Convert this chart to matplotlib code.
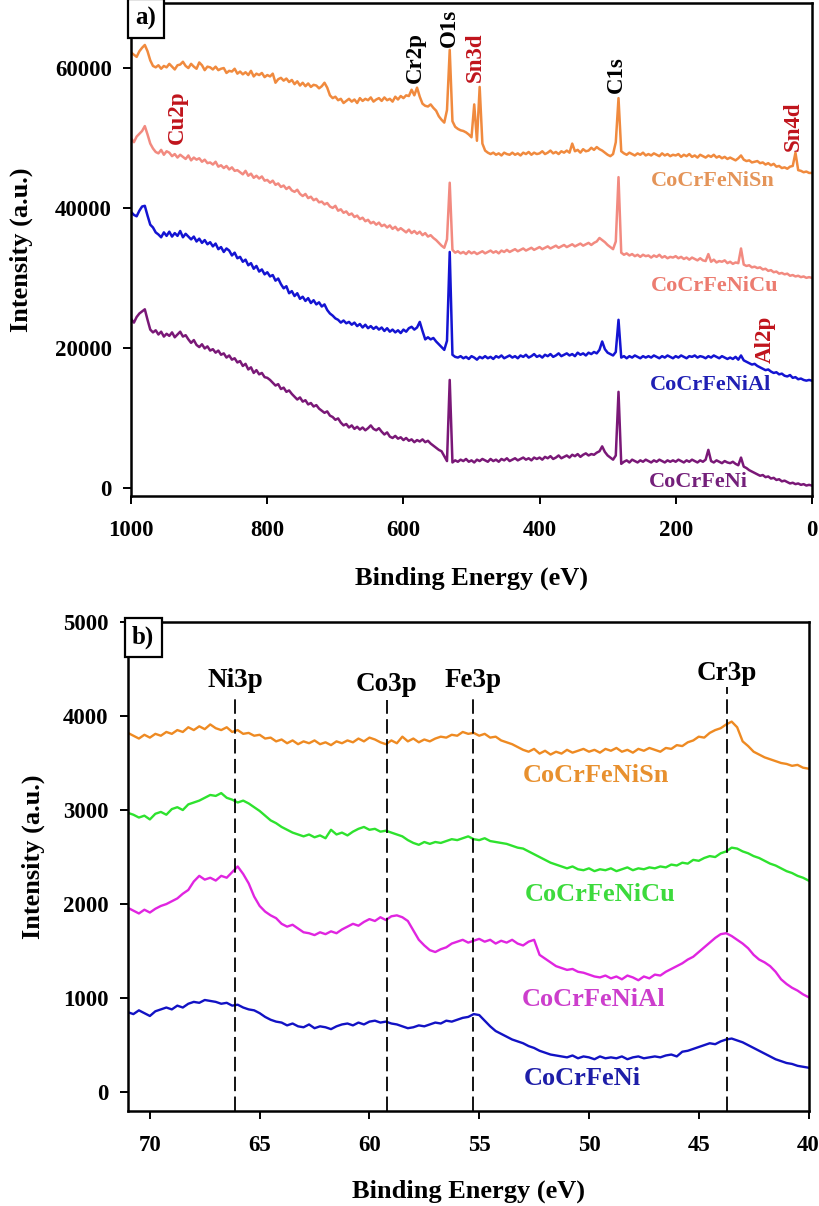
import numpy as np
import matplotlib
matplotlib.use("Agg")
import matplotlib.pyplot as plt

plt.rcParams["font.family"] = "Liberation Serif"
plt.rcParams["font.weight"] = "bold"
plt.rcParams["axes.labelweight"] = "bold"

# ---------------- survey spectra (panel a), 4 eV steps, values in kcounts ----------------
survey_energy = np.arange(1000, -1, -4)

survey_sn = [
    62.2, 61.9, 61.6, 62.4, 62.9, 63.3, 62.4, 61.1, 60.3, 60.1,
    60.4, 59.9, 60.3, 60.1, 60.6, 60.2, 59.8, 60.4, 60.5, 60.9,
    60.3, 60.0, 60.6, 60.2, 59.9, 60.8, 60.4, 59.7, 60.2, 60.1,
    59.8, 60.2, 59.7, 59.9, 60.0, 59.3, 59.6, 59.5, 59.9, 59.2,
    59.5, 59.1, 59.4, 59.0, 59.6, 58.8, 59.2, 59.0, 59.3, 58.7,
    59.0, 58.8, 59.2, 57.9, 58.4, 58.6, 58.2, 58.5, 58.0, 58.3,
    57.7, 58.1, 57.5, 57.9, 57.4, 57.8, 57.3, 57.6, 57.5, 57.1,
    57.4, 57.9, 57.2, 56.1, 55.7, 55.9, 55.4, 55.6, 55.0, 55.3,
    55.6, 55.2, 55.5, 55.0, 55.7, 55.3, 55.6, 55.4, 55.8, 55.2,
    55.5, 55.7, 55.3, 55.8, 55.4, 55.6, 55.2, 55.9, 55.5, 56.0,
    55.7, 56.1, 56.0, 56.9, 56.1, 57.2, 55.9, 54.9, 54.6, 54.5,
    54.8, 54.3, 53.9, 53.1, 52.6, 52.2, 54.0, 62.6, 52.4, 51.6,
    51.3, 51.1, 51.0, 50.8, 50.5, 50.1, 54.8, 49.6, 57.3, 49.2,
    48.2, 47.9, 47.7, 47.9, 47.6, 47.8, 47.5, 47.9, 47.7, 47.6,
    47.9, 47.6, 47.8, 47.5, 47.9, 47.7, 48.0, 47.6, 47.9, 47.7,
    47.8, 48.1, 47.7, 47.9, 48.2, 47.8, 48.0, 47.7, 48.1, 47.9,
    48.2, 47.9, 49.2, 48.1, 48.3, 47.9, 48.4, 48.1, 48.2, 48.6,
    48.3, 48.7, 48.4, 48.2, 47.9, 47.6, 47.4, 47.7, 49.4, 55.7,
    48.1, 47.8, 47.6, 47.9, 47.7, 47.5, 47.8, 47.6, 47.9, 47.5,
    47.7, 47.5, 47.8, 47.6, 47.4, 47.8, 47.5, 47.7, 47.4, 47.6,
    47.5, 47.7, 47.3, 47.6, 47.4, 47.7, 47.3, 47.5, 47.2, 47.6,
    47.4, 47.2, 47.5, 47.3, 47.6, 47.2, 47.4, 47.1, 47.3, 47.0,
    47.2, 47.0, 46.8, 47.1, 47.5, 46.9, 46.7, 46.8, 46.5, 46.6,
    46.7, 46.4, 46.5, 46.2, 46.4, 46.1, 46.3, 45.9, 46.0, 45.7,
    45.8, 45.6, 45.9, 46.0, 47.9, 45.4, 45.3, 45.1, 45.2, 45.0,
    45.0,
]

survey_cu = [
    49.9, 49.4, 50.2, 50.6, 51.0, 51.7, 50.5, 49.2, 48.5, 48.0,
    47.8, 48.3, 47.6, 48.1, 47.9, 47.4, 47.7, 47.2, 47.6, 47.3,
    47.0, 47.5, 46.8, 47.2, 46.9, 47.1, 46.6, 46.9, 46.4, 46.5,
    46.2, 46.6, 45.9, 46.1, 45.7, 46.0, 45.5, 45.8, 45.3, 45.4,
    45.1, 44.8, 45.3, 44.6, 44.9, 44.3, 44.6, 44.2, 44.5, 43.9,
    44.0, 43.6, 43.9, 43.3, 43.5, 43.0, 43.2, 42.7, 43.0, 42.5,
    42.3, 42.6, 42.0, 41.7, 42.0, 41.4, 41.6, 41.1, 41.3, 40.8,
    40.9, 40.5, 40.7, 40.2, 40.0, 40.3, 39.6, 39.8, 39.3, 39.5,
    39.0, 39.2, 38.7, 38.9, 38.4, 38.6, 38.1, 38.3, 37.8, 38.0,
    37.6, 37.9, 37.4, 37.6, 37.2, 37.5, 37.0, 37.3, 36.8, 37.1,
    36.8, 36.5, 36.9, 36.4, 36.7, 36.3, 36.6, 36.1, 36.4, 35.9,
    36.1, 35.7, 35.4, 35.0, 34.6, 34.3, 35.5, 43.6, 34.0, 33.6,
    33.8, 33.5, 33.7, 33.4, 33.8, 33.5, 33.7, 33.4, 33.6, 33.8,
    33.5, 33.7, 33.9, 33.6, 33.8, 33.5, 33.9, 33.7, 34.0, 33.7,
    33.9, 34.1, 33.8, 34.0, 34.2, 33.9, 34.1, 34.3, 34.0, 34.2,
    34.4, 34.1, 34.3, 34.5, 34.2, 34.4, 34.6, 34.3, 34.5, 34.7,
    34.4, 34.6, 34.8, 34.5, 34.7, 34.9, 34.6, 34.8, 35.0, 34.7,
    35.0, 35.2, 35.7, 35.4, 35.1, 34.7, 34.4, 34.1, 35.2, 44.4,
    33.6, 33.3, 33.5, 33.2, 33.4, 33.1, 33.3, 33.0, 33.3, 33.1,
    33.2, 32.9, 33.2, 33.0, 33.3, 32.9, 33.1, 32.8, 33.0, 32.9,
    33.1, 32.8, 33.0, 32.7, 32.9, 32.6, 32.9, 32.7, 32.5, 32.8,
    32.5, 32.4, 33.4, 32.3, 32.6, 32.2, 32.4, 32.3, 32.5, 32.1,
    32.3, 32.0, 32.2, 32.1, 34.2, 31.9, 31.7, 31.8, 31.5, 31.6,
    31.4, 31.5, 31.2, 31.3, 31.0, 31.1, 30.8, 30.9, 30.6, 30.7,
    30.5, 30.6, 30.3, 30.4, 30.2, 30.3, 30.1, 30.2, 30.0, 30.1,
    30.0,
]

survey_al = [
    39.4, 39.0, 38.8, 39.6, 40.2, 40.3, 38.9, 37.6, 37.2, 36.5,
    36.2, 35.8, 36.5, 36.0, 36.6, 35.9, 36.4, 36.0, 36.7, 35.8,
    36.3, 35.9, 35.5, 35.9, 35.2, 35.6, 35.0, 35.4, 34.8, 35.1,
    34.5, 34.9, 34.1, 34.4, 33.7, 34.2, 33.9, 33.2, 33.6, 32.8,
    33.0, 32.3, 32.6, 31.8, 32.1, 31.3, 31.7, 30.9, 31.2, 30.5,
    30.8, 30.2, 30.4, 29.6, 29.9, 29.1, 28.5, 28.8, 27.8, 28.1,
    27.4, 27.8, 27.0, 27.3, 26.7, 27.1, 26.4, 26.8, 26.2, 26.5,
    25.9, 26.2, 25.4, 24.9, 24.6, 24.2, 24.0, 23.6, 23.9, 23.5,
    23.7, 23.3, 23.6, 23.1, 23.4, 22.9, 23.3, 22.8, 23.1, 22.7,
    23.0, 22.6, 22.9, 22.4, 22.8, 22.3, 22.6, 22.2, 22.5, 22.1,
    22.6, 22.3, 22.8, 23.0, 22.6, 22.9, 23.7, 22.4, 21.2, 21.5,
    21.2, 21.4, 20.9, 20.5, 20.1, 19.7, 21.0, 33.7, 19.0, 18.7,
    18.6, 18.8, 18.5, 18.7, 18.4, 18.8, 18.6, 18.3, 18.7, 18.5,
    18.8, 18.5, 18.7, 18.4, 18.8, 18.6, 18.9, 18.5, 18.7, 18.9,
    18.6, 18.8, 18.5, 18.9, 18.7, 19.0, 18.6, 18.8, 19.1, 18.7,
    18.9, 18.6, 19.0, 18.8, 19.1, 18.7, 18.9, 19.2, 18.8, 19.0,
    19.2, 18.9, 19.1, 18.8, 19.3, 19.0, 19.2, 18.9, 19.3, 19.1,
    19.4, 19.2, 19.7, 20.9, 19.8, 19.3, 19.1, 18.9, 19.4, 24.0,
    18.6, 18.8, 18.5, 18.8, 18.6, 18.9, 18.7, 18.5, 18.8, 18.6,
    18.8, 18.6, 18.9, 18.7, 18.5, 18.8, 18.6, 18.9, 18.7, 18.5,
    18.8, 18.6, 18.9, 18.7, 18.5, 18.8, 18.7, 18.9, 18.6, 18.8,
    18.7, 18.5, 18.8, 18.6, 18.9, 18.7, 18.5, 18.8, 18.6, 18.4,
    18.6, 18.4, 18.7, 18.3, 18.9, 18.2, 18.0, 17.8, 17.6, 17.7,
    17.4, 17.2, 17.0, 16.8, 16.9, 16.6, 16.4, 16.5, 16.2, 16.3,
    16.0, 15.9, 16.1, 15.7, 15.8, 15.5, 15.6, 15.4, 15.3, 15.4,
    15.3,
]

survey_ni = [
    24.1, 23.6, 24.4, 24.9, 25.2, 25.5, 24.0, 22.6, 22.2, 22.5,
    21.9, 22.3, 21.6, 22.0, 21.7, 22.2, 21.5, 21.9, 22.3, 21.6,
    21.8, 21.2, 20.7, 21.1, 20.4, 20.1, 20.5, 19.9, 20.2, 19.6,
    19.8, 19.3, 19.6, 19.0, 19.2, 18.6, 18.9, 18.3, 18.5, 17.9,
    18.1, 17.4, 17.7, 16.9, 17.2, 16.4, 16.8, 16.2, 16.4, 15.8,
    15.7, 15.4, 15.0, 14.6, 14.8, 14.1, 14.3, 13.7, 13.9, 13.4,
    13.0, 12.6, 12.9, 12.3, 12.5, 11.9, 12.1, 11.6, 11.8, 11.3,
    11.0, 10.7, 10.9, 10.3, 10.1, 9.7, 9.9, 9.3, 8.9, 9.1,
    8.6, 8.9, 8.4, 8.7, 8.3, 8.6, 8.2, 8.5, 8.9, 8.4,
    8.2, 8.5, 8.0, 7.6, 7.9, 7.3, 7.1, 7.4, 7.0, 7.2,
    6.8, 7.1, 6.7, 6.9, 6.5, 6.8, 6.6, 6.9, 6.5, 6.7,
    6.3, 6.0, 5.7, 5.4, 5.2, 4.5, 3.8, 15.4, 3.6, 3.9,
    3.7, 4.0, 3.8, 4.1, 3.7, 3.9, 3.6, 4.0, 3.8, 4.1,
    3.9, 3.7, 4.1, 3.8, 4.0, 3.7, 4.1, 3.9, 4.2, 3.8,
    4.0, 4.2, 3.9, 4.1, 4.3, 4.0, 4.2, 3.9, 4.3, 4.1,
    4.3, 4.0, 4.4, 4.2, 4.5, 4.1, 4.3, 4.6, 4.2, 4.4,
    4.6, 4.3, 4.7, 4.5, 4.8, 4.4, 4.7, 4.9, 4.6, 4.8,
    4.7, 5.0, 5.2, 5.9, 5.1, 4.6, 4.3, 4.0, 4.6, 13.7,
    3.4, 3.7, 3.9, 3.6, 4.0, 3.8, 3.6, 3.9, 3.7, 4.0,
    3.8, 3.6, 3.9, 3.7, 4.0, 3.8, 3.6, 3.9, 3.7, 3.9,
    3.7, 4.0, 3.8, 3.6, 3.9, 3.7, 4.0, 3.8, 3.6, 3.9,
    3.7, 4.0, 5.4, 3.8, 3.6, 3.9, 3.7, 3.5, 3.8, 3.6,
    3.5, 3.7, 3.4, 3.2, 4.3, 3.0, 2.8, 2.5, 2.3, 2.1,
    1.9, 1.7, 1.8, 1.5, 1.6, 1.3, 1.4, 1.1, 1.2, 0.9,
    1.0, 0.8, 0.6, 0.7, 0.5, 0.6, 0.4, 0.5, 0.3, 0.4,
    0.3,
]

# ---------------- 3p region (panel b), 0.25 eV steps, counts ----------------
region_energy = np.arange(71.0, 39.99, -0.25)

region_sn = [
    3820, 3790, 3760, 3800, 3770, 3810, 3790, 3830,
    3810, 3850, 3830, 3880, 3850, 3890, 3860, 3910,
    3870, 3850, 3880, 3830, 3850, 3810, 3820, 3790,
    3800, 3760, 3770, 3730, 3750, 3710, 3740, 3700,
    3730, 3710, 3740, 3700, 3720, 3690, 3730, 3710,
    3740, 3720, 3760, 3730, 3770, 3750, 3720, 3700,
    3740, 3710, 3780, 3730, 3760, 3720, 3750, 3730,
    3760, 3780, 3770, 3800, 3790, 3830, 3810, 3820,
    3790, 3810, 3770, 3780, 3740, 3720, 3700, 3670,
    3640, 3620, 3650, 3600, 3630, 3590, 3620, 3600,
    3640, 3610, 3630, 3650, 3620, 3640, 3610, 3650,
    3630, 3660, 3620, 3640, 3610, 3650, 3630, 3660,
    3640, 3620, 3660, 3650, 3690, 3680, 3720, 3740,
    3780, 3770, 3820, 3850, 3870, 3910, 3940, 3880,
    3730, 3680, 3620, 3590, 3560, 3540, 3520, 3500,
    3490, 3470, 3480, 3450, 3440,
]

region_cu = [
    2970, 2950, 2920, 2940, 2900, 2960, 2980, 2950,
    3010, 3030, 3000, 3060, 3080, 3100, 3130, 3160,
    3150, 3180, 3130, 3110, 3080, 3100, 3070, 3030,
    2990, 2940, 2890, 2860, 2820, 2790, 2760, 2740,
    2720, 2740, 2710, 2730, 2700, 2790, 2740, 2760,
    2730, 2770, 2800, 2820, 2790, 2800, 2770, 2780,
    2760, 2740, 2720, 2680, 2650, 2630, 2660, 2640,
    2660, 2650, 2670, 2690, 2680, 2700, 2720, 2690,
    2680, 2700, 2670, 2660, 2650, 2640, 2620, 2600,
    2590, 2560, 2530, 2500, 2470, 2440, 2420, 2400,
    2380, 2400, 2370, 2360, 2380, 2350, 2370, 2360,
    2380, 2350, 2370, 2390, 2360, 2380, 2370, 2390,
    2380, 2400, 2390, 2420, 2410, 2440, 2430, 2470,
    2460, 2490, 2510, 2500, 2540, 2560, 2600, 2590,
    2560, 2540, 2510, 2490, 2460, 2430, 2410, 2380,
    2350, 2330, 2300, 2280, 2250,
]

region_al = [
    1960, 1930, 1900, 1940, 1910, 1950, 1980, 2000,
    2030, 2060, 2110, 2150, 2240, 2300, 2260, 2280,
    2250, 2300, 2280, 2340, 2400, 2320, 2220, 2080,
    1980, 1920, 1880, 1850, 1790, 1760, 1780, 1740,
    1700, 1690, 1670, 1700, 1680, 1710, 1690, 1730,
    1760, 1790, 1770, 1810, 1840, 1820, 1860, 1830,
    1870, 1880, 1860, 1820, 1720, 1620, 1560, 1510,
    1490, 1520, 1540, 1580, 1600, 1620, 1590, 1610,
    1630, 1600, 1620, 1580, 1610, 1590, 1620, 1580,
    1560, 1600, 1620, 1460, 1420, 1380, 1340, 1320,
    1300, 1310, 1280, 1270, 1250, 1230, 1220, 1240,
    1210, 1230, 1200, 1240, 1220, 1190, 1230, 1210,
    1250, 1240, 1280, 1310, 1340, 1370, 1410, 1440,
    1490, 1540, 1590, 1640, 1680, 1690, 1660, 1620,
    1580, 1530, 1460, 1410, 1380, 1340, 1280, 1200,
    1150, 1110, 1080, 1040, 1010,
]

region_ni = [
    850, 830, 870, 840, 810, 860, 880, 900,
    880, 920, 900, 940, 960, 950, 980, 970,
    960, 940, 950, 920, 930, 900, 880, 870,
    840, 800, 770, 750, 740, 710, 730, 700,
    690, 720, 680, 700, 690, 670, 700, 720,
    730, 710, 740, 720, 750, 760, 740, 750,
    730, 720, 700, 680, 690, 710, 700, 720,
    740, 730, 760, 750, 770, 790, 800, 830,
    820, 760, 700, 650, 620, 590, 560, 540,
    520, 490, 470, 440, 420, 400, 390, 380,
    370, 390, 360, 380, 370, 350, 380, 360,
    370, 360, 380, 350, 370, 380, 360, 370,
    380, 370, 390, 400, 380, 430, 440, 460,
    480, 500, 520, 510, 540, 560, 570, 550,
    530, 500, 470, 440, 410, 380, 350, 330,
    310, 300, 280, 270, 260,
]

alloy_names = ["CoCrFeNiSn", "CoCrFeNiCu", "CoCrFeNiAl", "CoCrFeNi"]
survey_peak_names = ["Cu2p", "Cr2p", "O1s", "Sn3d", "C1s", "Sn4d", "Al2p"]
survey_peak_energy = [932, 582, 532, 494, 287, 27, 68]
region_peak_names = ["Ni3p", "Co3p", "Fe3p", "Cr3p"]
region_peak_energy = [66.1, 59.2, 55.3, 43.7]

# ---------------- figure ----------------
fig = plt.figure(figsize=(8.2, 12.06), dpi=100)
ax1 = fig.add_axes([0.160, 0.5887, 0.830, 0.4088])
ax2 = fig.add_axes([0.156, 0.0788, 0.830, 0.4055])

red = "#C0141C"

# panel a
top_line_colors = ["#F08A3E", "#F28A80", "#1414D2", "#7A1877"]
top_text_colors = ["#E49458", "#EC7C70", "#2020B4", "#74207A"]
top_series = [survey_sn, survey_cu, survey_al, survey_ni]
for vals, c in zip(top_series, top_line_colors):
    ax1.plot(survey_energy, np.array(vals) * 1000, color=c, lw=1.8)

top_label_pos = [(146, 43860), (143, 28860), (149, 14700), (166, 860)]
for name, (x, y), c in zip(alloy_names, top_label_pos, top_text_colors):
    ax1.text(x, y, name, color=c, fontsize=16, ha="center", va="center")

peak_colors = [red, "black", "black", red, "black", red, red]
peak_y = [53000, 61570, 65700, 61570, 59000, 51700, 21140]
for name, e, y, c in zip(survey_peak_names, survey_peak_energy, peak_y, peak_colors):
    ax1.text(e, y, name, color=c, fontsize=16.5, rotation=90, ha="center", va="center")

ax1.set_xlim(1000, 0)
ax1.set_ylim(-1200, 69300)
ax1.set_xticks([1000, 800, 600, 400, 200, 0])
ax1.set_yticks([0, 20000, 40000, 60000])
ax1.set_xlabel("Binding Energy (eV)", fontsize=19)
ax1.set_ylabel("Intensity (a.u.)", fontsize=19)
ax1.xaxis.set_label_coords(0.5, -0.143)
ax1.yaxis.set_label_coords(-0.144, 0.5)
ax1.text(0.006, 0.992, "a)", transform=ax1.transAxes, fontsize=18, ha="left", va="top",
         bbox=dict(boxstyle="square,pad=0.3", fc="white", ec="black", lw=1.6))

# panel b
bot_line_colors = ["#EE8A22", "#2EE22E", "#E025E0", "#1212C4"]
bot_text_colors = ["#E8902E", "#3CDA3C", "#CC3ECC", "#1E1EA8"]
bot_series = [region_sn, region_cu, region_al, region_ni]
for vals, c in zip(bot_series, bot_line_colors):
    ax2.plot(region_energy, vals, color=c, lw=1.7)

bot_label_pos = [(49.7, 3370), (49.5, 2100), (49.8, 990), (50.3, 140)]
for name, (x, y), c in zip(alloy_names, bot_label_pos, bot_text_colors):
    ax2.text(x, y, name, color=c, fontsize=19, ha="center", va="center")

line_tops = [4220, 4170, 4220, 4310]
label_y = [4380, 4330, 4380, 4450]
for name, e, top, ly in zip(region_peak_names, region_peak_energy, line_tops, label_y):
    ax2.vlines(e, -200, top, colors="black", lw=1.3, linestyles=(0, (8, 3)))
    ax2.text(e, ly, name, fontsize=19.5, ha="center", va="center")

ax2.set_xlim(71, 40)
ax2.set_ylim(-200, 5000)
ax2.set_xticks([70, 65, 60, 55, 50, 45, 40])
ax2.set_yticks([0, 1000, 2000, 3000, 4000, 5000])
ax2.set_xlabel("Binding Energy (eV)", fontsize=19)
ax2.set_ylabel("Intensity (a.u.)", fontsize=19)
ax2.xaxis.set_label_coords(0.5, -0.141)
ax2.yaxis.set_label_coords(-0.122, 0.52)
ax2.text(0.006, 0.992, "b)", transform=ax2.transAxes, fontsize=18, ha="left", va="top",
         bbox=dict(boxstyle="square,pad=0.3", fc="white", ec="black", lw=1.6))

for ax in (ax1, ax2):
    for s in ax.spines.values():
        s.set_linewidth(1.8)
    ax.tick_params(direction="out", length=6, width=1.4, labelsize=16.5)
    ax.tick_params(axis="x", pad=11)
    ax.tick_params(axis="y", pad=8)

fig.savefig("out.png", dpi=100)
